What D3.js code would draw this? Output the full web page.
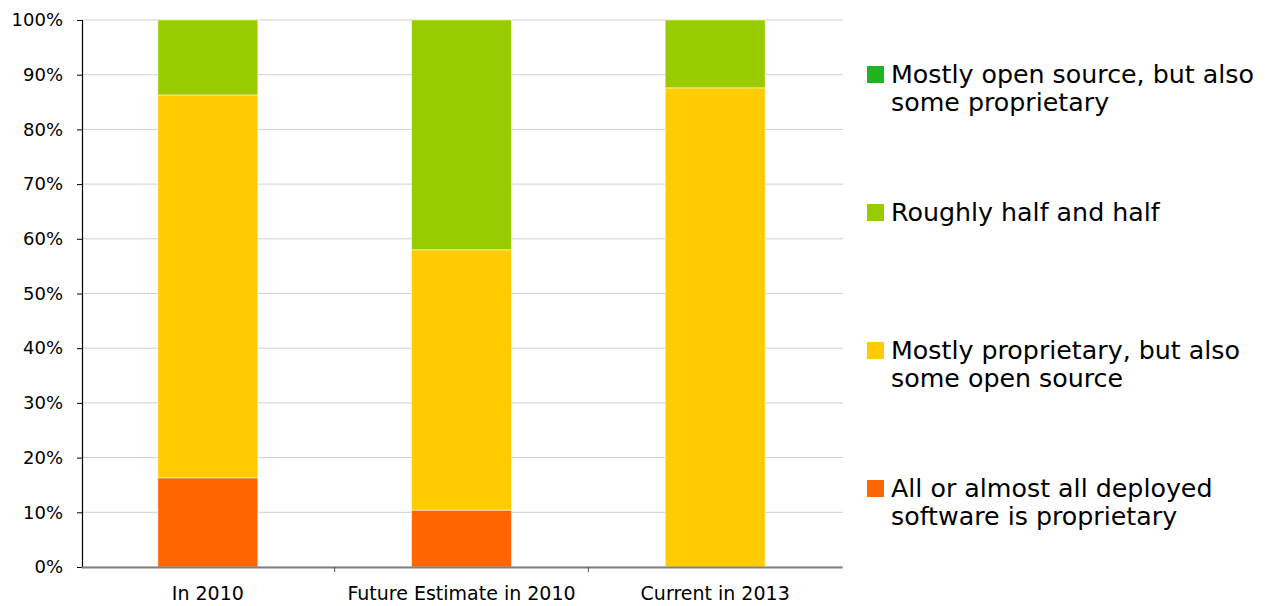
<!DOCTYPE html>
<html>
<head>
<meta charset="utf-8">
<script src="https://cdn.jsdelivr.net/npm/d3@7"></script>
<style>
  body { margin: 0; background: #fff; }
  text { font-family: "DejaVu Sans", Verdana, sans-serif; fill: #000; }
</style>
</head>
<body>
<div id="chart"></div>
<script>
const categories = ["In 2010", "Future Estimate in 2010", "Current in 2013"];
const seriesNames = [
  "All or almost all deployed software is proprietary",
  "Mostly proprietary, but also some open source",
  "Roughly half and half",
  "Mostly open source, but also some proprietary"
];
const allProprietary = [16.3, 10.4, 0];
const mostlyProprietary = [70.0, 47.6, 87.6];
const halfAndHalf = [13.7, 42.0, 12.4];
const mostlyOpen = [0, 0, 0];
const colors = ["#ff6600", "#ffcc00", "#99cc00", "#1fb51f"];
const legendLines = [
  ["All or almost all deployed", "software is proprietary"],
  ["Mostly proprietary, but also", "some open source"],
  ["Roughly half and half"],
  ["Mostly open source, but also", "some proprietary"]
];
const yTicks = [0, 10, 20, 30, 40, 50, 60, 70, 80, 90, 100];

const W = 1266, H = 606;
const margin = { left: 82, right: 423, top: 20, bottom: 39 };
const width = W - margin.left - margin.right;
const height = H - margin.top - margin.bottom;

const rows = categories.map((c, i) => ({
  cat: c,
  s0: allProprietary[i], s1: mostlyProprietary[i], s2: halfAndHalf[i], s3: mostlyOpen[i]
}));
const stack = d3.stack().keys(["s0", "s1", "s2", "s3"])(rows);

const svg = d3.select("#chart").append("svg")
  .attr("width", W).attr("height", H);
const g = svg.append("g").attr("transform", `translate(${margin.left},${margin.top})`);

const x = d3.scaleBand().domain(categories).range([-1, width - 1]).paddingInner(0.606).paddingOuter(0.303);
const y = d3.scaleLinear().domain([0, 100]).range([height, 0]);

// gridlines
g.append("g").selectAll("line").data(yTicks).join("line")
  .attr("x1", 0).attr("x2", width)
  .attr("y1", d => y(d)).attr("y2", d => y(d))
  .attr("stroke", "#d0d0d0").attr("stroke-width", 1);

// bars
g.append("g").selectAll("g").data(stack).join("g")
  .attr("fill", (d, i) => colors[i])
  .selectAll("rect").data(d => d).join("rect")
  .attr("x", d => x(d.data.cat))
  .attr("width", x.bandwidth())
  .attr("y", d => y(d[1]))
  .attr("height", d => Math.max(0, y(d[0]) - y(d[1])))
  .attr("stroke", d => (d[1] - d[0]) > 0 ? "rgba(255,255,255,0.5)" : "none")
  .attr("stroke-width", 1);

// y axis
const yAxis = g.append("g")
  .call(d3.axisLeft(y).tickValues(yTicks).tickFormat(d => d + "%").tickSize(5).tickPadding(14));
yAxis.select(".domain").attr("stroke", "#000").attr("stroke-width", 1.2);
yAxis.selectAll(".tick line").attr("stroke", "#000");
yAxis.selectAll("text").style("font-size", "18px");

// x axis
const xAxis = g.append("g").attr("transform", `translate(0,${height})`)
  .call(d3.axisBottom(x).tickSize(0).tickPadding(20));
xAxis.select(".domain").attr("stroke", "#808080").attr("stroke-width", 2);
xAxis.selectAll("text").style("font-size", "19px");
// separators between categories
const step = x.step();
g.append("g").selectAll("line").data(categories.slice(1)).join("line")
  .attr("x1", d => x(d) - x.paddingInner() * step / 2)
  .attr("x2", d => x(d) - x.paddingInner() * step / 2)
  .attr("y1", height).attr("y2", height + 5)
  .attr("stroke", "#555").attr("stroke-width", 1);

// legend
const legendOrder = [3, 2, 1, 0];
const legend = svg.append("g").attr("transform", "translate(867,66)");
legendOrder.forEach((s, k) => {
  const item = legend.append("g").attr("transform", `translate(0,${k * 138})`);
  item.append("rect").attr("width", 17).attr("height", 17).attr("fill", colors[s]);
  item.append("text")
    .attr("x", 24).attr("y", 17)
    .style("font-size", "25.3px")
    .selectAll("tspan").data(legendLines[s]).join("tspan")
    .attr("x", 24).attr("dy", (d, i) => i === 0 ? 0 : 28)
    .text(d => d);
});
</script>
</body>
</html>
